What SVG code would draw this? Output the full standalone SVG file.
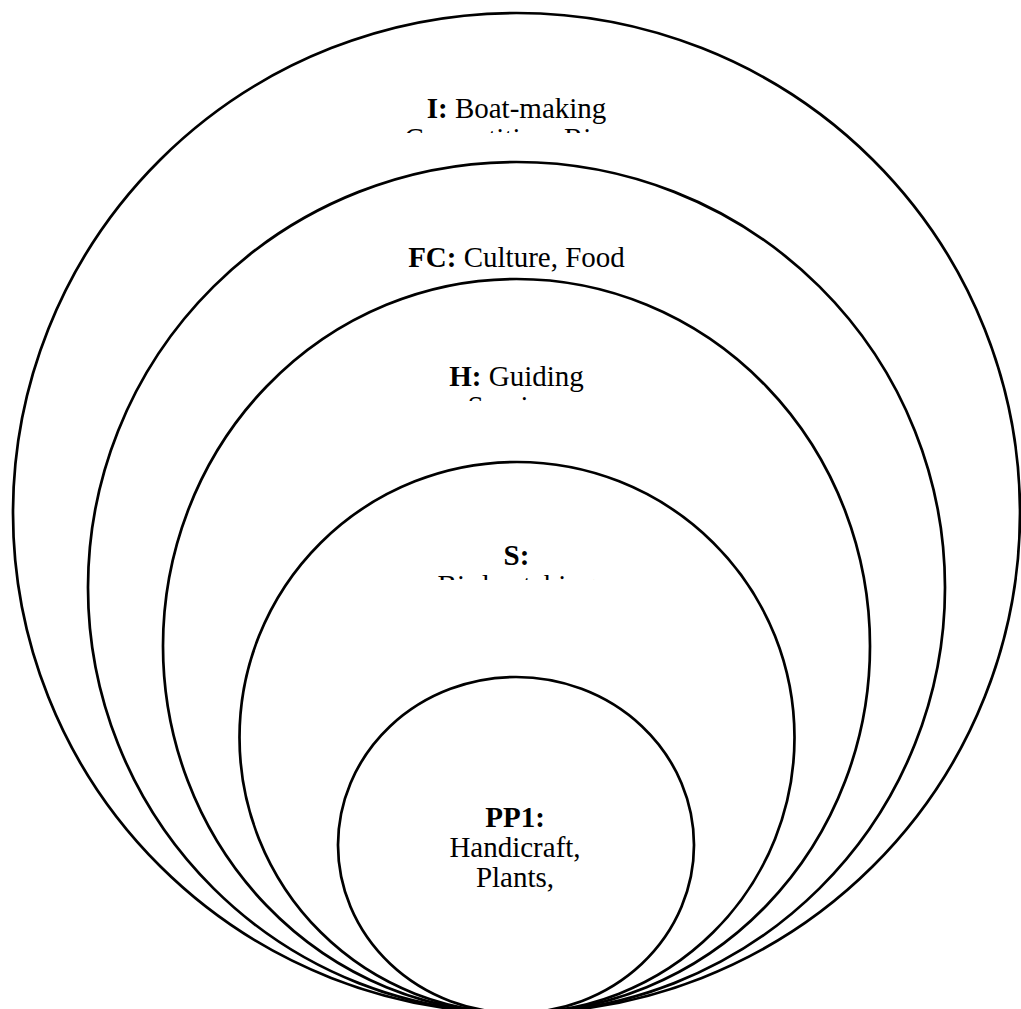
<svg xmlns="http://www.w3.org/2000/svg" width="1021" height="1009" viewBox="0 0 1021 1009">
<style>
.ring{fill:#fff;stroke:#000;stroke-width:2.7}
.lbl{font-family:"Liberation Serif","Times New Roman",serif;font-size:29px;fill:#000;text-anchor:middle}
.b{font-weight:bold}
</style>
<defs>
<clipPath id="clipI"><rect x="0" y="80" width="1021" height="53"/></clipPath>
<clipPath id="clipH"><rect x="0" y="350" width="1021" height="51"/></clipPath>
<clipPath id="clipS"><rect x="0" y="530" width="1021" height="50"/></clipPath>
</defs>
<rect width="1021" height="1009" fill="#fff"/>
<g id="node-I">
<ellipse class="ring" cx="516.5" cy="513" rx="503.5" ry="500"/>
<g clip-path="url(#clipI)">
<text class="lbl" x="516.5" y="118"><tspan class="b">I:</tspan> Boat-making</text>
<text class="lbl" x="516.5" y="148">Competition, River</text>
</g>
</g>
<g id="node-FC">
<ellipse class="ring" cx="516.5" cy="587.5" rx="428.5" ry="425.5"/>
<text class="lbl" x="516.5" y="267"><tspan class="b">FC:</tspan> Culture, Food</text>
</g>
<g id="node-H">
<ellipse class="ring" cx="516.5" cy="646" rx="353.5" ry="367"/>
<g clip-path="url(#clipH)">
<text class="lbl" x="516.5" y="386"><tspan class="b">H:</tspan> Guiding</text>
<text class="lbl" x="516.5" y="416">Services</text>
</g>
</g>
<g id="node-S">
<ellipse class="ring" cx="517" cy="737.5" rx="277.5" ry="275.5"/>
<g clip-path="url(#clipS)">
<text class="lbl b" x="516.5" y="565">S:</text>
<text class="lbl" x="516.5" y="595">Birdwatching</text>
</g>
</g>
<g id="node-PP1">
<ellipse class="ring" cx="516" cy="845" rx="178" ry="168"/>
<text class="lbl b" x="515" y="827">PP1:</text>
<text class="lbl" x="515" y="857">Handicraft,</text>
<text class="lbl" x="515" y="887">Plants,</text>
</g>
<g id="connectors"></g>
</svg>
